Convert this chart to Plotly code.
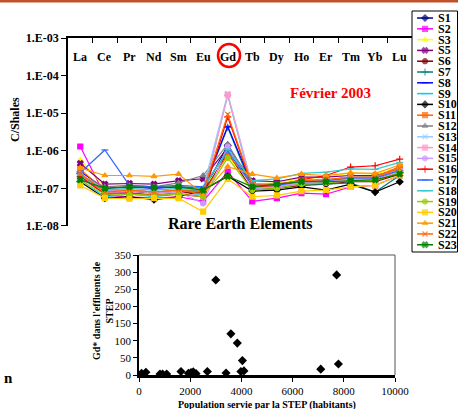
import plotly.graph_objects as go

W, H = 458, 409

# ---------------- data ----------------
elements = ["La", "Ce", "Pr", "Nd", "Sm", "Eu", "Gd", "Tb", "Dy", "Ho", "Er", "Tm", "Yb", "Lu"]

S1 = [2.5e-7, 7e-8, 8e-8, 7e-8, 8e-8, 8e-8, 1.4e-6, 1.1e-7, 1.1e-7, 1.3e-7, 1.4e-7, 1.6e-7, 1.6e-7, 2.6e-7]
S2 = [1.3e-6, 6.5e-8, 6e-8, 5.5e-8, 6e-8, 4.5e-8, 2.8e-7, 4.5e-8, 5.5e-8, 7.5e-8, 7e-8, 1.1e-7, 1.2e-7, 2.2e-7]
S3 = [5.7e-7, 1.1e-7, 1.2e-7, 1.1e-7, 1.2e-7, 1e-7, 7e-7, 1.3e-7, 1.4e-7, 1.8e-7, 2e-7, 2.6e-7, 2.4e-7, 3.5e-7]
S5 = [4.6e-7, 1.3e-7, 1.35e-7, 1.3e-7, 1.6e-7, 1.8e-7, 1.2e-6, 1.6e-7, 1.5e-7, 2e-7, 2e-7, 2.2e-7, 2.2e-7, 3.2e-7]
S6 = [1.9e-7, 7.5e-8, 8e-8, 7e-8, 8e-8, 7.5e-8, 9e-7, 9e-8, 1e-7, 1.2e-7, 1.3e-7, 1.5e-7, 1.5e-7, 2.4e-7]
S7 = [2e-7, 8e-8, 9e-8, 8e-8, 9e-8, 9e-8, 4.2e-6, 1e-7, 1.1e-7, 1.3e-7, 1.3e-7, 1.4e-7, 8e-8, 2.2e-7]
S8 = [2.8e-7, 1e-7, 1.1e-7, 1e-7, 1.1e-7, 1e-7, 4.5e-6, 1.2e-7, 1.3e-7, 1.5e-7, 1.6e-7, 1.8e-7, 1.8e-7, 2.8e-7]
S9 = [1.7e-7, 6e-8, 7e-8, 6e-8, 7e-8, 7e-8, 3e-5, 1e-7, 1.2e-7, 1.6e-7, 1.7e-7, 2e-7, 2.1e-7, 3.3e-7]
S10 = [1.5e-7, 5.5e-8, 6e-8, 5e-8, 6e-8, 9e-8, 2.1e-7, 8.5e-8, 9e-8, 1.1e-7, 9e-8, 1.3e-7, 8e-8, 1.5e-7]
S11 = [3.2e-7, 9e-8, 9e-8, 8e-8, 9e-8, 7e-8, 8e-7, 1.3e-7, 1.2e-7, 1.6e-7, 1.7e-7, 2e-7, 2e-7, 3.8e-7]
S12 = [2.2e-7, 1.1e-7, 1.2e-7, 1.1e-7, 1.4e-7, 2.2e-7, 1.5e-6, 1.3e-7, 1.3e-7, 1.6e-7, 1.6e-7, 1.8e-7, 1.9e-7, 3e-7]
S13 = [2e-7, 9e-8, 1e-7, 9e-8, 1e-7, 1e-7, 3.3e-5, 1.2e-7, 1.2e-7, 1.5e-7, 1.6e-7, 2e-7, 2e-7, 3e-7]
S14 = [1.8e-7, 8e-8, 8e-8, 7e-8, 8e-8, 6e-8, 3.1e-5, 1.1e-7, 1.1e-7, 1.4e-7, 1.5e-7, 1.7e-7, 1.7e-7, 2.8e-7]
S15 = [2.4e-7, 9e-8, 9e-8, 8e-8, 8e-8, 4e-8, 1.3e-6, 1e-7, 1.1e-7, 1.4e-7, 1.5e-7, 1.8e-7, 1.8e-7, 3.1e-7]
S16 = [2.1e-7, 7e-8, 7.5e-8, 6.5e-8, 7e-8, 6e-8, 8e-6, 1.1e-7, 1.2e-7, 1.7e-7, 2.2e-7, 3.7e-7, 4e-7, 6e-7]
S17 = [2.6e-7, 1.05e-6, 1.2e-7, 1.1e-7, 1.2e-7, 1.1e-7, 1e-6, 1.2e-7, 1.2e-7, 1.5e-7, 1.6e-7, 1.9e-7, 1.9e-7, 3e-7]
S18 = [2.3e-7, 9e-8, 1e-7, 9e-8, 1e-7, 1e-7, 1.1e-6, 1.6e-7, 1.8e-7, 2.5e-7, 2.7e-7, 3.3e-7, 3.2e-7, 4.9e-7]
S19 = [1.6e-7, 7e-8, 7e-8, 6.5e-8, 7e-8, 6e-8, 6.5e-7, 9e-8, 1e-7, 1.3e-7, 1.4e-7, 1.6e-7, 1.6e-7, 2.6e-7]
S20 = [1.2e-7, 5.5e-8, 5.3e-8, 5.5e-8, 5.5e-8, 2.4e-8, 1.8e-7, 6e-8, 6.5e-8, 8.5e-8, 9e-8, 1.1e-7, 1.2e-7, 2.2e-7]
S21 = [3.5e-7, 2.2e-7, 2.2e-7, 2.1e-7, 2.4e-7, 7e-8, 3.8e-7, 2.4e-7, 1.9e-7, 2.4e-7, 2.2e-7, 2.6e-7, 2.5e-7, 4.2e-7]
S22 = [2.5e-7, 8e-8, 9e-8, 8e-8, 9e-8, 8e-8, 9.3e-6, 1.2e-7, 1.3e-7, 1.6e-7, 1.7e-7, 2e-7, 2e-7, 3.4e-7]
S23 = [1.7e-7, 1e-7, 1.1e-7, 1.05e-7, 1.1e-7, 9e-8, 2.1e-7, 1.1e-7, 1.3e-7, 1.5e-7, 1.5e-7, 1.6e-7, 1.7e-7, 2.4e-7]

series_names = ["S1", "S2", "S3", "S5", "S6", "S7", "S8", "S9", "S10", "S11", "S12",
                "S13", "S14", "S15", "S16", "S17", "S18", "S19", "S20", "S21", "S22", "S23"]
series_values = [S1, S2, S3, S5, S6, S7, S8, S9, S10, S11, S12,
                 S13, S14, S15, S16, S17, S18, S19, S20, S21, S22, S23]

y_tickvals = [1e-8, 1e-7, 1e-6, 1e-5, 1e-4, 1e-3]
y_ticktext = ["1.E-08", "1.E-07", "1.E-06", "1.E-05", "1.E-04", "1.E-03"]

population = [100, 270, 820, 920, 1080, 1640, 1930, 2030, 2120, 2230, 2670, 3000,
              3400, 3590, 3840, 3980, 4040, 4100, 7100, 7720, 7790]
gd_anomaly = [5, 8, 3, 3, 3, 10, 5, 7, 9, 4, 10, 277,
              6, 120, 93, 10, 42, 12, 17, 292, 32]
pop_ticks = [0, 2000, 4000, 6000, 8000, 10000]
gd_ticks = [0, 50, 100, 150, 200, 250, 300, 350]

# ---------------- styles ----------------
colors = ["#000080", "#FF00FF", "#FFFF00", "#800080", "#800000", "#008080", "#0000FF",
          "#00CCFF", "#000000", "#FF6600", "#808080", "#99CCFF", "#FF99CC", "#CC99FF",
          "#FF0000", "#3366FF", "#33CCCC", "#99CC00", "#FFCC00", "#FF9900", "#FF6600", "#008000"]
symbols = ["diamond", "square", "triangle-up", "x", "circle", "cross-thin-open", "line-ew-open",
           "line-ew-open", "diamond", "square", "triangle-up", "x-thin-open", "square", "circle",
           "cross-thin-open", "line-ew-open", "line-ew-open", "circle", "square", "triangle-up",
           "x-thin-open", "x"]

SERIF = "Liberation Serif"

def fx(p):
    return p / W

def fy(p):
    return 1 - p / H

fig = go.Figure()

# main REE lines
for name, vals, col, sym in zip(series_names, series_values, colors, symbols):
    fig.add_trace(go.Scatter(
        x=elements, y=vals, mode="lines+markers", name=name,
        line=dict(color=col, width=1.2),
        marker=dict(color=col, symbol=sym, size=5, line=dict(color=col, width=1.2)),
        xaxis="x", yaxis="y", showlegend=False))

# invisible trace to carry the boundary-tick overlay axis
fig.add_trace(go.Scatter(x=[0], y=[1e-5], mode="markers", marker=dict(opacity=0),
                         xaxis="x3", yaxis="y", showlegend=False, hoverinfo="skip"))

# scatter plot
fig.add_trace(go.Scatter(
    x=population, y=gd_anomaly, mode="markers",
    marker=dict(symbol="diamond", size=7, color="black"),
    xaxis="x2", yaxis="y2", showlegend=False))

# manual legend (compact)
for i, (name, col, sym) in enumerate(zip(series_names, colors, symbols)):
    fig.add_trace(go.Scatter(
        x=[0.11, 0.283, 0.457], y=[i, i, i], mode="lines+markers",
        line=dict(color=col, width=1.5),
        marker=dict(color=col, symbol=sym, size=[0, 5, 0], line=dict(color=col, width=1.2)),
        xaxis="x4", yaxis="y4", showlegend=False, hoverinfo="skip"))

annotations = []
for i, name in enumerate(series_names):
    annotations.append(dict(x=0.53, y=i, xref="x4", yref="y4", text=name, showarrow=False,
                            xanchor="left", yanchor="middle",
                            font=dict(family=SERIF, size=12, color="black", weight="bold")))

# element labels just below the top category axis
for el in elements:
    annotations.append(dict(x=el, y=fy(57), xref="x", yref="paper", text=el, showarrow=False,
                            xanchor="center", yanchor="middle",
                            font=dict(family=SERIF, size=12, color="black", weight="bold")))

def note(px, py, text, size, color="black", angle=0, bold=True):
    return dict(x=fx(px), y=fy(py), xref="paper", yref="paper", text=text, showarrow=False,
                xanchor="center", yanchor="middle", textangle=angle,
                font=dict(family=SERIF, size=size, color=color,
                          weight="bold" if bold else "normal"))

annotations += [
    note(240, 223, "Rare Earth Elements", 16),
    note(15, 120, "C/Shales", 12, angle=-90),
    note(330, 93, "Février 2003", 15, color="red"),
    note(103, 311, "Gd* dans l'effluents de<br>STEP", 10, angle=-90),
    note(267, 405, "Population servie par la STEP (habitants)", 10),
    note(8, 378, "n", 15),
]

shapes = [
    # top brown rule
    dict(type="line", xref="paper", yref="paper", x0=0, x1=1, y0=fy(1), y1=fy(1),
         line=dict(color="#C0502A", width=3)),
    # red circle around Gd
    dict(type="circle", xref="paper", yref="paper", x0=fx(218), x1=fx(240), y0=fy(67), y1=fy(44),
         line=dict(color="red", width=2.5)),
    # legend box
    dict(type="rect", xref="paper", yref="paper", x0=fx(412), x1=fx(457.5), y0=fy(252), y1=fy(11),
         line=dict(color="black", width=1)),
    # scatter box top/right
    dict(type="line", xref="paper", yref="paper", x0=fx(139), x1=fx(395), y0=fy(255), y1=fy(255),
         line=dict(color="#555555", width=1)),
    dict(type="line", xref="paper", yref="paper", x0=fx(395), x1=fx(395), y0=fy(255), y1=fy(375),
         line=dict(color="#555555", width=1)),
]

fig.update_layout(
    width=W, height=H,
    margin=dict(l=0, r=0, t=0, b=0, autoexpand=False),
    paper_bgcolor="white", plot_bgcolor="rgba(0,0,0,0)",
    font=dict(family=SERIF, color="black"),
    annotations=annotations, shapes=shapes,
    xaxis=dict(domain=[fx(68), fx(412)], type="category", range=[-0.5, 13.5],
               side="top", anchor="y", showline=True, linecolor="black", linewidth=1.5,
               ticks="", showticklabels=False, automargin=False,
               showgrid=False, zeroline=False, fixedrange=True),
    xaxis3=dict(overlaying="x", range=[-0.5, 13.5], side="top", anchor="y", automargin=False,
                tickvals=[k + 0.5 for k in range(-1, 14)], ticks="inside", ticklen=5,
                tickcolor="black", tickwidth=1, showticklabels=False, showline=False,
                showgrid=False, zeroline=False),
    yaxis=dict(domain=[fy(226), fy(38)], type="log", range=[-8.0005, -2.9995], anchor="x",
               tickvals=y_tickvals, ticktext=y_ticktext, ticks="outside", ticklen=5,
               tickcolor="black", showline=True, linecolor="black", linewidth=1.5,
               automargin=False,
               tickfont=dict(family=SERIF, size=12, color="black", weight="bold"),
               showgrid=False, zeroline=False),
    xaxis2=dict(domain=[fx(139), fx(395)], range=[0, 10000], anchor="y2",
                tickvals=pop_ticks, ticktext=[str(v) for v in pop_ticks],
                ticks="outside", ticklen=4, automargin=False,
                tickcolor="black", showline=True, linecolor="black", linewidth=2.5,
                tickfont=dict(family=SERIF, size=11, color="black"),
                showgrid=False, zeroline=False),
    yaxis2=dict(domain=[fy(375), fy(255)], range=[0, 350], anchor="x2",
                tickvals=gd_ticks, ticktext=[str(v) for v in gd_ticks],
                ticks="outside", ticklen=4, automargin=False,
                tickcolor="black", showline=True, linecolor="black", linewidth=1.5,
                tickfont=dict(family=SERIF, size=11, color="black"),
                showgrid=False, zeroline=False),
    xaxis4=dict(domain=[fx(412), fx(458)], range=[0, 1], anchor="y4", visible=False,
                automargin=False),
    yaxis4=dict(domain=[fy(252), fy(11)], range=[21.67, -0.65], anchor="x4", visible=False,
                automargin=False),
)

fig.write_html("out.html", config={"displayModeBar": False},
               post_script="document.body.style.margin='0px';document.body.style.overflow='hidden';")
